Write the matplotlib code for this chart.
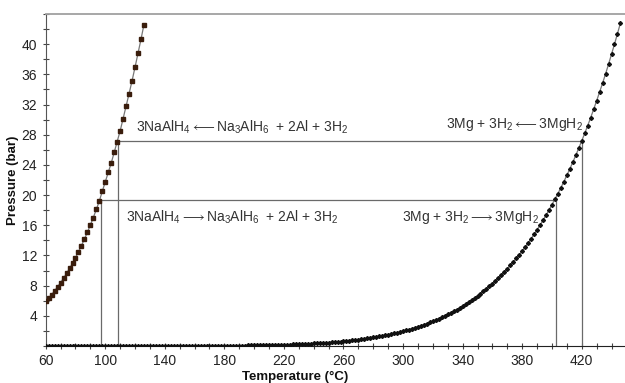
import numpy as np
import matplotlib
matplotlib.use('Agg')
import matplotlib.pyplot as plt
from matplotlib.ticker import MultipleLocator, FixedLocator

plt.rcParams['font.family'] = ['Liberation Sans', 'DejaVu Sans']
plt.rcParams['mathtext.fontset'] = 'custom'
plt.rcParams['mathtext.rm'] = 'Liberation Sans'
plt.rcParams['mathtext.it'] = 'Liberation Sans:italic'
plt.rcParams['mathtext.bf'] = 'Liberation Sans:bold'

# NaAlH4 equilibrium curve, 60..126 degC every 2 degC
t_na = list(range(60, 128, 2))
p_na = [5.90, 6.35, 6.81, 7.31, 7.84, 8.40, 8.99, 9.61, 10.28, 10.97,
        11.70, 12.49, 13.30, 14.17, 15.07, 16.04, 17.03, 18.10, 19.20, 20.50,
        21.75, 23.00, 24.25, 25.65, 27.10, 28.50, 30.15, 31.80, 33.45, 35.15,
        36.95, 38.80, 40.65, 42.60]

# MgH2 equilibrium curve, 60..446 degC every 2 degC
t_mg = list(range(60, 448, 2))
p_mg = [0.0000, 0.0000, 0.0001, 0.0001, 0.0001, 0.0001, 0.0001, 0.0001, 0.0001, 0.0001,
        0.0001, 0.0002, 0.0002, 0.0002, 0.0003, 0.0003, 0.0003, 0.0004, 0.0004, 0.0005,
        0.0006, 0.0006, 0.0007, 0.0008, 0.0009, 0.0011, 0.0012, 0.0013, 0.0015, 0.0017,
        0.0019, 0.0021, 0.0023, 0.0026, 0.0029, 0.0033, 0.0036, 0.0040, 0.0045, 0.0050,
        0.0055, 0.0061, 0.0068, 0.0075, 0.0082, 0.0090, 0.0099, 0.0109, 0.0120, 0.0132,
        0.0145, 0.0159, 0.0174, 0.0190, 0.0209, 0.0229, 0.0250, 0.0273, 0.0298, 0.0325,
        0.0353, 0.0384, 0.0417, 0.0453, 0.0492, 0.0534, 0.0579, 0.0627, 0.0679, 0.0734,
        0.0794, 0.0857, 0.0924, 0.0997, 0.1075, 0.116, 0.125, 0.134, 0.145, 0.156,
        0.167, 0.179, 0.192, 0.207, 0.222, 0.238, 0.255, 0.272, 0.291, 0.311,
        0.333, 0.355, 0.379, 0.404, 0.431, 0.460, 0.490, 0.521, 0.555, 0.591,
        0.629, 0.668, 0.709, 0.753, 0.800, 0.849, 0.900, 0.953, 1.010, 1.070,
        1.134, 1.199, 1.268, 1.341, 1.418, 1.499, 1.582, 1.670, 1.763, 1.861,
        1.964, 2.069, 2.179, 2.296, 2.418, 2.547, 2.679, 2.817, 2.963, 3.116,
        3.277, 3.440, 3.612, 3.791, 3.980, 4.179, 4.380, 4.591, 4.812, 5.043,
        5.286, 5.533, 5.791, 6.062, 6.345, 6.639, 6.938, 7.250, 7.576, 7.917,
        8.273, 8.635, 9.012, 9.406, 9.817, 10.25, 10.68, 11.13, 11.60, 12.09,
        12.60, 13.12, 13.66, 14.22, 14.80, 15.41, 16.02, 16.66, 17.32, 18.01,
        18.73, 19.45, 20.20, 20.98, 21.78, 22.62, 23.47, 24.35, 25.26, 26.21,
        27.19, 28.17, 29.19, 30.25, 31.35, 32.49, 33.64, 34.83, 36.06, 37.34,
        38.67, 40.00, 41.40, 42.80]

# operating levels: absorption / desorption
p_low = 19.4
p_high = 27.2
t_na_low, t_na_high = 97.0, 108.6
t_mg_low, t_mg_high = 402.7, 420.0

fig = plt.figure(figsize=(6.25, 3.83), dpi=100)
ax = fig.add_axes([45.7 / 625, 37 / 383, 580.7 / 625, 332 / 383])

ax.plot(t_na, p_na, color='#777777', lw=0.9, marker='s', ms=2.2,
        mfc='#3a1d0c', mec='#3a1d0c', zorder=3)
ax.plot(t_mg, p_mg, color='#777777', lw=0.9, marker='D', ms=2.0,
        mfc='#111111', mec='#111111', zorder=3)

lc = '#6a6a6a'
ax.plot([t_na_low, t_mg_low], [p_low, p_low], color=lc, lw=0.9, zorder=2)
ax.plot([t_na_high, t_mg_high], [p_high, p_high], color=lc, lw=0.9, zorder=2)
for t, p in [(t_na_low, p_low), (t_na_high, p_high), (t_mg_low, p_low), (t_mg_high, p_high)]:
    ax.plot([t, t], [0, p], color=lc, lw=0.9, zorder=2)

R = '$_\\mathregular{%s}$'
fs = 10
tc = '#333333'
LA = '$\\longleftarrow$'
RA = '$\\longrightarrow$'
ax.text(120.5, 29.0, '3NaAlH' + R % 4 + LA + 'Na' + R % 3 + 'AlH' + R % 6 + '  + 2Al + 3H' + R % 2,
        fontsize=fs, color=tc, va='center')
ax.text(114, 17.0, '3NaAlH' + R % 4 + RA + 'Na' + R % 3 + 'AlH' + R % 6 + '  + 2Al + 3H' + R % 2,
        fontsize=fs, color=tc, va='center')
ax.text(328.8, 29.4, '3Mg + 3H' + R % 2 + LA + '3MgH' + R % 2,
        fontsize=fs, color=tc, va='center')
ax.text(299.3, 17.0, '3Mg + 3H' + R % 2 + RA + '3MgH' + R % 2,
        fontsize=fs, color=tc, va='center')

ax.set_xlim(60, 450)
ax.set_ylim(0, 44)
ax.xaxis.set_major_locator(FixedLocator(list(range(60, 421, 40))))
ax.xaxis.set_minor_locator(MultipleLocator(10))
ax.yaxis.set_major_locator(FixedLocator(list(range(4, 41, 4))))
ax.yaxis.set_minor_locator(MultipleLocator(2))
ax.tick_params(which='both', direction='inout', length=5, width=0.8,
               color='#444444', labelcolor='#222222', labelsize=10)

ax.spines['right'].set_visible(False)
ax.spines['top'].set_color('#a0a0a0')
ax.spines['top'].set_linewidth(1.3)
ax.spines['left'].set_color('#555555')
ax.spines['bottom'].set_color('#222222')

ax.set_xlabel('Temperature (\u00b0C)', fontsize=9.5, fontweight='bold', color='#111111')
ax.xaxis.set_label_coords(0.43, -0.075)
ax.set_ylabel('Pressure (bar)', fontsize=9.5, fontweight='bold', color='#111111', labelpad=2)

fig.savefig('out.png', dpi=100)
